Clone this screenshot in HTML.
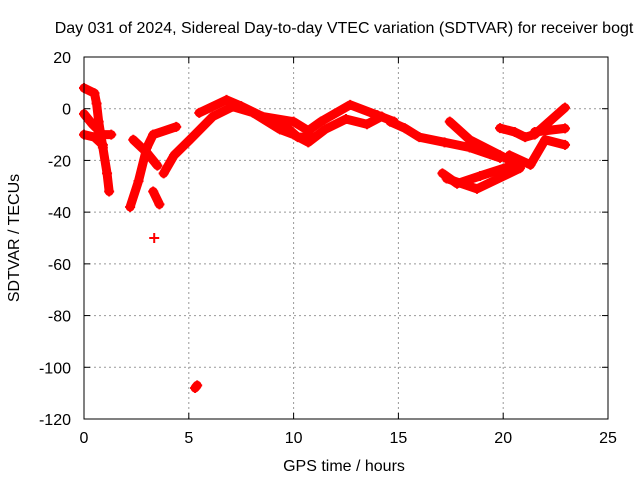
<!DOCTYPE html>
<html><head><meta charset="utf-8"><style>
body{margin:0;background:#fff;}
svg{display:block;font-family:"Liberation Sans",sans-serif;}
</style></head><body>
<svg id="chart" width="640" height="480">
<rect width="640" height="480" fill="#fff"/>
<text x="344" y="33" font-size="16" text-anchor="middle">Day 031 of 2024, Sidereal Day-to-day VTEC variation (SDTVAR) for receiver bogt</text>
<text x="344" y="471" font-size="16" text-anchor="middle">GPS time / hours</text>
<text transform="translate(19,238) rotate(-90)" font-size="16" text-anchor="middle">SDTVAR / TECUs</text>
<g id="grid"></g><g id="ticks"></g><g id="marks"></g>
<rect x="84" y="57" width="524" height="362" fill="none" stroke="#000" stroke-width="1"/>
</svg>
<script>
const xTicks=[0,5,10,15,20,25];
const yTicks=[20,0,-20,-40,-60,-80,-100,-120];
const t1=[[0,8],[0.5,6],[0.6,2],[0.7,-5],[0.9,-15],[1.1,-25],[1.2,-32]];
const t2=[[0,-2],[0.4,-6],[0.9,-10],[1.3,-10]];
const t3=[[0,-10],[0.5,-11],[0.9,-14]];
const t4=[[2.2,-38],[2.6,-28],[3.0,-15],[3.3,-10],[4.4,-7]];
const t5=[[2.35,-12],[3.0,-17],[3.5,-22]];
const t6=[[3.3,-32],[3.6,-37]];
const t7=[[3.35,-50]];
const t8=[[5.3,-108],[5.4,-107]];
const t9=[[3.8,-25],[4.3,-18],[5.05,-12],[6.15,-3],[7.1,0.8],[8.05,-1.5],[9.35,-8],[10,-10],[10.7,-13],[11.5,-8],[12.5,-4],[13.5,-6],[14.2,-3]];
const t10=[[5.5,-1.6],[6.8,3.4],[7.5,1],[8.5,-3],[10,-5],[10.7,-8.5],[11.3,-5],[12.7,1.5],[14,-2.5],[14.8,-5]];
const t11=[[8.5,-3],[9.5,-6],[10.2,-11],[11,-11]];
const t12=[[14.6,-5],[15.3,-7.5],[16,-11],[17.2,-13],[18.4,-15],[19.85,-19]];
const t13=[[17.45,-5],[18.4,-12],[19.85,-18],[20.8,-22]];
const t14=[[17.1,-25],[17.8,-29],[18.9,-26],[20.8,-21]];
const t15=[[17.3,-27],[18.75,-31],[20.8,-23]];
const t16=[[19.85,-7.5],[20.55,-9],[21.05,-11],[21.5,-10],[22.95,0.4]];
const t17=[[21.5,-9],[22.95,-7.6]];
const t18=[[20.3,-18],[21.3,-21.7],[22,-12],[22.95,-14]];
const series=[t1,t2,t3,t4,t5,t6,t7,t8,t9,t10,t11,t12,t13,t14,t15,t16,t17,t18];
const X=h=>84+h*524/25;
const Y=v=>57+(20-v)*362/140;
const NS="http://www.w3.org/2000/svg";
const grid=document.getElementById('grid'),ticks=document.getElementById('ticks'),marks=document.getElementById('marks');
function mk(tag,attrs,parent){const e=document.createElementNS(NS,tag);for(const k in attrs)e.setAttribute(k,attrs[k]);parent.appendChild(e);return e;}
xTicks.forEach(t=>{
 if(t>0&&t<25){const g=mk('line',{x1:X(t),x2:X(t),y1:57,y2:419,stroke:'#999','stroke-dasharray':'2,3'},grid);
 
 }
 mk('line',{x1:X(t),x2:X(t),y1:419,y2:413,stroke:'#000'},ticks);
 mk('line',{x1:X(t),x2:X(t),y1:57,y2:63,stroke:'#000'},ticks);
 const l=mk('text',{x:X(t),y:443,'font-size':16,'text-anchor':'middle'},ticks);l.textContent=t;
 
 
});
yTicks.forEach(t=>{
 if(t<20&&t>-120){const g=mk('line',{x1:84,x2:608,y1:Y(t),y2:Y(t),stroke:'#999','stroke-dasharray':'2,3'},grid);
 
 }
 mk('line',{x1:84,x2:90,y1:Y(t),y2:Y(t),stroke:'#000'},ticks);
 mk('line',{x1:608,x2:602,y1:Y(t),y2:Y(t),stroke:'#000'},ticks);
 const l=mk('text',{x:71,y:Y(t)+6,'font-size':16,'text-anchor':'end'},ticks);l.textContent=t;
 
 
});
series.forEach((s,i)=>{
 const p=mk('polyline',{points:s.map(d=>X(d[0])+','+Y(d[1])).join(' '),fill:'none',stroke:'#f00','stroke-width':9,'stroke-linejoin':'round','stroke-linecap':'round'},marks);
 
 
 s.forEach(d=>{
  const m=mk('path',{d:`M${X(d[0])-5},${Y(d[1])}h10M${X(d[0])},${Y(d[1])-5}v10`,stroke:'#f00','stroke-width':2},marks);
  
  
 });
});
</script>
</body></html>
